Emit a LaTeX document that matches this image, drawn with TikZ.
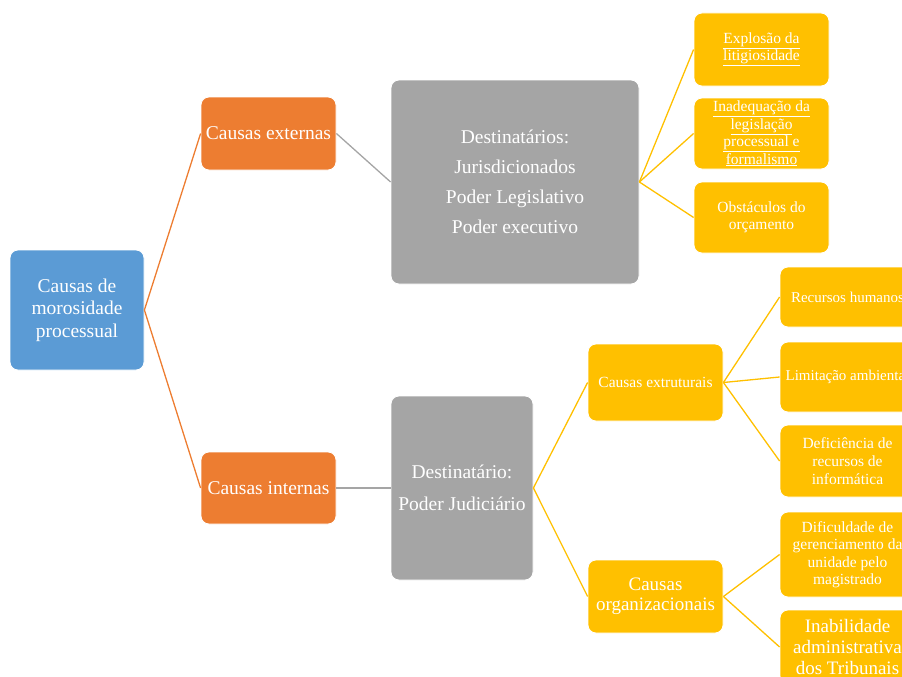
\documentclass[tikz,border=0pt]{standalone}
\usepackage{fontspec}
\setmainfont{Liberation Serif}
\definecolor{cblue}{HTML}{5B9BD5}
\definecolor{corange}{HTML}{ED7D31}
\definecolor{cgray}{HTML}{A5A5A5}
\definecolor{cyellow}{HTML}{FFC000}
\begin{document}
\begin{tikzpicture}[x=1pt,y=-1pt,
  box/.style={rounded corners=8pt, draw=white, line width=0.8pt, text=white, align=center, inner sep=0pt, anchor=center},
  bluebox/.style={box, fill=cblue},
  orangebox/.style={box, fill=corange},
  graybox/.style={box, fill=cgray},
  yellowbox/.style={box, fill=cyellow},
  oline/.style={draw=corange, line width=1.3pt},
  gline/.style={draw=cgray, line width=1.3pt},
  yline/.style={draw=cyellow, line width=1.3pt},
  big/.style={font=\fontsize{19.5}{22.5}\selectfont},
  mid/.style={font=\fontsize{15.5}{18}\selectfont},
  small/.style={font=\fontsize{15.5}{17.5}\selectfont}
]
\useasboundingbox (0,0) rectangle (902,677);
\clip (0,0) rectangle (902,677);
% level 0
\node[bluebox, big, minimum width=134pt, minimum height=120pt] (root) at (77,310) {Causas de\\morosidade\\processual};
% level 1
\node[orangebox, big, minimum width=135pt, minimum height=73pt] (ext) at (268.5,133.5) {Causas externas};
\node[orangebox, big, minimum width=135pt, minimum height=72pt] (int) at (268.5,488) {Causas internas};
% level 2
\node[graybox, font=\fontsize{19.5}{30}\selectfont, minimum width=248pt, minimum height=204pt] (dest1) at (515,182) {Destinatários:\\Jurisdicionados\\Poder Legislativo\\Poder executivo};
\node[graybox, font=\fontsize{19.5}{32}\selectfont, minimum width=142pt, minimum height=184pt] (dest2) at (462,488) {Destinatário:\\Poder Judiciário};
% level 3 (externas)
\node[yellowbox, small, minimum width=135pt, minimum height=73pt] (explo) at (761.5,49.5) {\underline{Explosão da}\\\underline{litigiosidade}};
\node[yellowbox, small, minimum width=135pt, minimum height=71pt] (inad) at (761.5,133.5) {\underline{Inadequação da}\\\underline{legislação}\\\underline{processual e}\\\underline{formalismo}};
\node[yellowbox, small, minimum width=135pt, minimum height=71pt] (obst) at (761.5,217.5) {Obstáculos do\\orçamento};
% level 3 (internas)
\node[yellowbox, mid, minimum width=135pt, minimum height=77pt] (estr) at (655.5,382.5) {Causas extruturais};
\node[yellowbox, font=\fontsize{19}{20.5}\selectfont, minimum width=135pt, minimum height=73pt] (org) at (655.5,596.5) {Causas\\organizacionais};
% level 4
\node[yellowbox, font=\fontsize{15}{18}\selectfont, minimum width=135pt, minimum height=60pt] (rh) at (847.5,297) {Recursos humanos};
\node[yellowbox, font=\fontsize{15}{18}\selectfont, minimum width=135pt, minimum height=70pt] (lim) at (847.5,377) {Limitação ambiental};
\node[yellowbox, mid, minimum width=135pt, minimum height=72pt] (def) at (847.5,461) {Deficiência de\\recursos de\\informática};
\node[yellowbox, small, minimum width=135pt, minimum height=85pt] (dif) at (847.5,554.5) {Dificuldade de\\gerenciamento da\\unidade pelo\\magistrado};
\node[yellowbox, font=\fontsize{19}{21}\selectfont, minimum width=135pt, minimum height=74pt] (inab) at (847.5,647) {Inabilidade\\administrativa\\dos Tribunais};
% connectors
\draw[oline] (root.east) -- (ext.west);
\draw[oline] (root.east) -- (int.west);
\draw[gline] (ext.east) -- (dest1.west);
\draw[gline] (int.east) -- (dest2.west);
\draw[yline] (dest1.east) -- (explo.west);
\draw[yline] (dest1.east) -- (inad.west);
\draw[yline] (dest1.east) -- (obst.west);
\draw[yline] (dest2.east) -- (estr.west);
\draw[yline] (dest2.east) -- (org.west);
\draw[yline] (estr.east) -- (rh.west);
\draw[yline] (estr.east) -- (lim.west);
\draw[yline] (estr.east) -- (def.west);
\draw[yline] (org.east) -- (dif.west);
\draw[yline] (org.east) -- (inab.west);
\end{tikzpicture}
\end{document}
